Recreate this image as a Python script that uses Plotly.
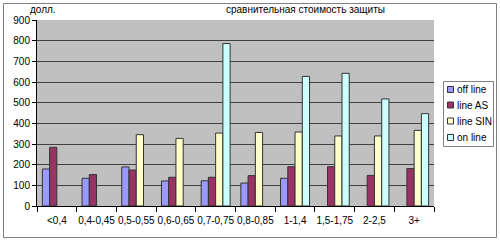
import plotly.graph_objects as go

categories = ["<0,4", "0,4-0,45", "0,5-0,55", "0,6-0,65", "0,7-0,75", "0,8-0,85", "1-1,4", "1,5-1,75", "2-2,5", "3+"]
off_line = [179, 134, 189, 121, 122, 111, 134, None, None, None]
line_as = [284, 152, 174, 139, 139, 147, 190, 190, 148, 181]
line_sin = [None, None, 345, 327, 353, 356, 358, 339, 339, 366]
on_line = [None, None, None, None, 786, None, 627, 642, 518, 447]
y_ticks = [0, 100, 200, 300, 400, 500, 600, 700, 800, 900]

series_names = ["off line", "line AS", "line SIN", "on line"]
series_vals = [off_line, line_as, line_sin, on_line]
series_cols = ["#9999FF", "#993366", "#FFFFCC", "#CCFFFF"]

fig = go.Figure()
for name, vals, col in zip(series_names, series_vals, series_cols):
    fig.add_trace(go.Bar(
        x=categories, y=vals, name=name,
        marker=dict(color=col, line=dict(color="#333333", width=1)),
    ))

L, R, T, B = 37, 66, 20, 36
W, H = 500, 242
pw, ph = W - L - R, H - T - B

def px_x(p):
    return (p - L) / pw

def px_y(p):
    return (H - B - p) / ph

shapes = [
    dict(type="rect", xref="paper", yref="paper",
         x0=px_x(3.5), x1=px_x(496.5), y0=px_y(237.5), y1=px_y(3.5),
         line=dict(color="#808080", width=1), fillcolor="rgba(0,0,0,0)", layer="below"),
    dict(type="rect", xref="paper", yref="paper",
         x0=px_x(443.5), x1=px_x(493.5), y0=px_y(146.5), y1=px_y(81.5),
         line=dict(color="#808080", width=1), fillcolor="white", layer="above"),
]
annotations = [
    dict(text="долл.", xref="paper", yref="paper", x=px_x(28), y=px_y(9),
         xanchor="left", yanchor="middle", showarrow=False, font=dict(size=10)),
    dict(text="сравнительная стоимость защиты", xref="paper", yref="paper",
         x=px_x(305), y=px_y(9), xanchor="center", yanchor="middle",
         showarrow=False, font=dict(size=10)),
]
leg_y = [89.5, 105, 121, 137.5]
for name, col, yy in zip(series_names, series_cols, leg_y):
    shapes.append(dict(type="rect", xref="paper", yref="paper",
                       x0=px_x(447.5), x1=px_x(453.5), y0=px_y(yy + 3), y1=px_y(yy - 3),
                       line=dict(color="#333333", width=1), fillcolor=col, layer="above"))
    annotations.append(dict(text=name, xref="paper", yref="paper", x=px_x(455), y=px_y(yy),
                            xanchor="left", yanchor="middle", showarrow=False,
                            font=dict(size=10)))

fig.update_layout(
    width=W, height=H,
    margin=dict(l=L, r=R, t=T, b=B, pad=0),
    paper_bgcolor="white",
    plot_bgcolor="#C0C0C0",
    barmode="group",
    bargap=0.27,
    bargroupgap=0,
    font=dict(family="Liberation Sans, Arial, sans-serif", size=10, color="black"),
    showlegend=False,
    xaxis=dict(
        type="category", showgrid=False, showline=True, linecolor="black", linewidth=1,
        ticks="outside", tickson="boundaries", ticklen=5, tickcolor="black",
        tickfont=dict(size=10), tickangle=0, ticklabelstandoff=5, fixedrange=True,
    ),
    yaxis=dict(
        range=[0, 900], tickvals=y_ticks, showgrid=True, gridcolor="#404040", gridwidth=1,
        showline=True, linecolor="black", linewidth=1, ticks="outside", ticklen=4,
        tickcolor="black", tickfont=dict(size=10), zeroline=False, fixedrange=True,
    ),
    shapes=shapes,
    annotations=annotations,
)

fig.write_html("out.html")
